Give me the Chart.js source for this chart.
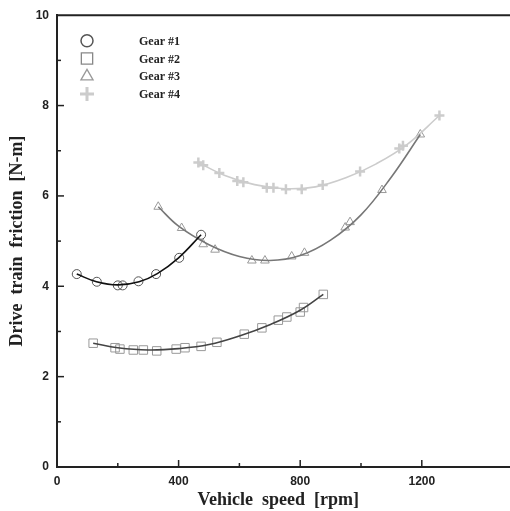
<!DOCTYPE html>
<html>
<head>
<meta charset="utf-8">
<script src="https://cdn.jsdelivr.net/npm/chart.js@4/dist/chart.umd.min.js"></script>
<style>
  html, body { margin: 0; padding: 0; background: #fff; overflow: hidden; }
  #wrap { width: 510px; height: 511px; overflow: hidden; }
</style>
</head>
<body>
<div id="wrap"><canvas id="frictionChart" width="530" height="511"></canvas></div>
<script>
const gear1Speed = [65, 131, 200, 216, 268, 326, 402, 474];
const gear1Friction = [4.27, 4.10, 4.02, 4.02, 4.11, 4.27, 4.63, 5.14];

const gear2Speed = [119, 191, 207, 251, 284, 328, 392, 421, 474, 526, 616, 674, 728, 756, 800, 811, 876];
const gear2Friction = [2.74, 2.64, 2.61, 2.59, 2.59, 2.57, 2.61, 2.64, 2.67, 2.76, 2.94, 3.08, 3.25, 3.32, 3.43, 3.53, 3.82];

const gear3Speed = [333, 410, 481, 520, 641, 684, 772, 814, 948, 964, 1069, 1195];
const gear3Friction = [5.76, 5.29, 4.93, 4.81, 4.57, 4.57, 4.66, 4.74, 5.30, 5.42, 6.13, 7.36];

const gear4Speed = [465, 481, 534, 593, 613, 690, 712, 753, 805, 874, 997, 1126, 1138, 1258];
const gear4Friction = [6.74, 6.68, 6.51, 6.33, 6.30, 6.18, 6.18, 6.15, 6.15, 6.24, 6.54, 7.05, 7.11, 7.78];

// Fitted curves
const fit1Speed = [65, 130, 200, 270, 330, 400, 474];
const fit1Friction = [4.27, 4.10, 4.03, 4.10, 4.28, 4.63, 5.14];

const fit2Speed = [119, 200, 300, 400, 500, 600, 700, 800, 876];
const fit2Friction = [2.74, 2.64, 2.59, 2.62, 2.71, 2.90, 3.15, 3.47, 3.82];

const fit3Speed = [333, 400, 500, 600, 700, 800, 900, 1000, 1100, 1195];
const fit3Friction = [5.76, 5.33, 4.92, 4.66, 4.57, 4.68, 5.02, 5.58, 6.42, 7.36];

const fit4Speed = [465, 550, 650, 750, 850, 950, 1050, 1150, 1258];
const fit4Friction = [6.74, 6.46, 6.25, 6.16, 6.20, 6.40, 6.71, 7.13, 7.78];

const gearLabels = ['Gear #1', 'Gear #2', 'Gear #3', 'Gear #4'];

function toPoints(xs, ys) {
    return xs.map((x, i) => ({ x: x, y: ys[i] }));
}

// inward tick marks, top frame line and the legend inside the plot
const framePlugin = {
    id: 'frame',
    afterDraw(chart) {
        const ctx = chart.ctx;
        const area = chart.chartArea;
        const xs = chart.scales.x;
        const ys = chart.scales.y;
        ctx.save();
        ctx.strokeStyle = '#222';
        ctx.lineWidth = 2;
        ctx.beginPath();
        ctx.moveTo(area.left, area.top);
        ctx.lineTo(area.right + 10, area.top);
        ctx.stroke();

        ctx.lineWidth = 1.5;
        xs.ticks.forEach(t => {
            if (t.value === 0) return;
            const px = xs.getPixelForValue(t.value);
            const len = t.value % 400 === 0 ? 7 : 4;
            ctx.beginPath();
            ctx.moveTo(px, area.bottom);
            ctx.lineTo(px, area.bottom - len);
            ctx.stroke();
        });
        ys.ticks.forEach(t => {
            if (t.value === 0 || t.value === 10) return;
            const py = ys.getPixelForValue(t.value);
            const len = t.value % 2 === 0 ? 7 : 4;
            ctx.beginPath();
            ctx.moveTo(area.left, py);
            ctx.lineTo(area.left + len, py);
            ctx.stroke();
        });

        // legend
        const sym = [
            { style: 'circle', color: '#555', width: 1.5, r: 6 },
            { style: 'rect', color: '#888', width: 1.3, r: 8 },
            { style: 'triangle', color: '#999', width: 1.3, r: 7 },
            { style: 'cross', color: '#ccc', width: 3, r: 7 }
        ];
        ctx.font = 'bold 12px "Liberation Serif"';
        ctx.textBaseline = 'middle';
        ctx.textAlign = 'left';
        gearLabels.forEach((label, i) => {
            const y = area.top + 25.5 + i * 17.8;
            ctx.strokeStyle = sym[i].color;
            ctx.fillStyle = 'rgba(0,0,0,0)';
            ctx.lineWidth = sym[i].width;
            Chart.helpers.drawPoint(ctx, { pointStyle: sym[i].style, radius: sym[i].r, rotation: 0, borderWidth: sym[i].width }, area.left + 30, y);
            ctx.fillStyle = '#222';
            ctx.fillText(label, area.left + 82, y + 1);
        });
        ctx.restore();
    }
};

function markerSet(label, xs, ys, style, color, radius, width) {
    return {
        label: label,
        data: toPoints(xs, ys),
        showLine: false,
        pointStyle: style,
        pointRadius: radius,
        pointBorderColor: color,
        pointBackgroundColor: 'rgba(0,0,0,0)',
        pointBorderWidth: width
    };
}

function fitSet(label, xs, ys, color) {
    return {
        label: label + ' fit',
        data: toPoints(xs, ys),
        showLine: true,
        borderColor: color,
        borderWidth: 1.6,
        tension: 0.4,
        pointRadius: 0,
        fill: false
    };
}

document.addEventListener('DOMContentLoaded', function() {
    const ctx = document.getElementById('frictionChart').getContext('2d');
    window.frictionChart = new Chart(ctx, {
        type: 'scatter',
        data: {
            datasets: [
                fitSet(gearLabels[0], fit1Speed, fit1Friction, '#111'),
                fitSet(gearLabels[1], fit2Speed, fit2Friction, '#444'),
                fitSet(gearLabels[2], fit3Speed, fit3Friction, '#777'),
                fitSet(gearLabels[3], fit4Speed, fit4Friction, '#ccc'),
                markerSet(gearLabels[0], gear1Speed, gear1Friction, 'circle', '#555', 4.5, 1),
                markerSet(gearLabels[1], gear2Speed, gear2Friction, 'rect', '#999', 6, 1),
                markerSet(gearLabels[2], gear3Speed, gear3Friction, 'triangle', '#999', 5, 1),
                markerSet(gearLabels[3], gear4Speed, gear4Friction, 'cross', '#ccc', 5, 2.5)
            ]
        },
        options: {
            responsive: false,
            animation: false,
            layout: { padding: { top: 13, right: 17, left: 0, bottom: 0 } },
            plugins: {
                legend: { display: false },
                tooltip: { enabled: false }
            },
            scales: {
                x: {
                    type: 'linear',
                    min: 0,
                    max: 1500,
                    afterFit: s => { s.height = 44; },
                    grid: { display: true, drawOnChartArea: false, drawTicks: false },
                    border: { display: true, color: '#222', width: 2 },
                    ticks: {
                        stepSize: 200,
                        padding: 7,
                        maxRotation: 0,
                        autoSkip: false,
                        color: '#222',
                        font: { family: '"Liberation Sans"', size: 12, weight: 'bold' },
                        callback: v => (v % 400 === 0 && v <= 1200 ? String(v) : '')
                    },
                    title: {
                        display: true,
                        text: 'Vehicle  speed  [rpm]   ',
                        color: '#222',
                        padding: { top: 0, bottom: 0 },
                        font: { family: '"Liberation Serif"', size: 18, weight: 'bold' }
                    }
                },
                y: {
                    min: 0,
                    max: 10,
                    afterFit: s => { s.width = 57; },
                    grid: { display: true, drawOnChartArea: false, drawTicks: false },
                    border: { display: true, color: '#222', width: 2 },
                    ticks: {
                        stepSize: 1,
                        padding: 8,
                        autoSkip: false,
                        color: '#222',
                        font: { family: '"Liberation Sans"', size: 12, weight: 'bold' },
                        callback: v => (v % 2 === 0 ? String(v) : '')
                    },
                    title: {
                        display: true,
                        text: 'Drive  train  friction  [N-m]',
                        color: '#222',
                        padding: { top: 7, bottom: 0 },
                        font: { family: '"Liberation Serif"', size: 18, weight: 'bold' }
                    }
                }
            }
        },
        plugins: [framePlugin]
    });
});
</script>
</body>
</html>
